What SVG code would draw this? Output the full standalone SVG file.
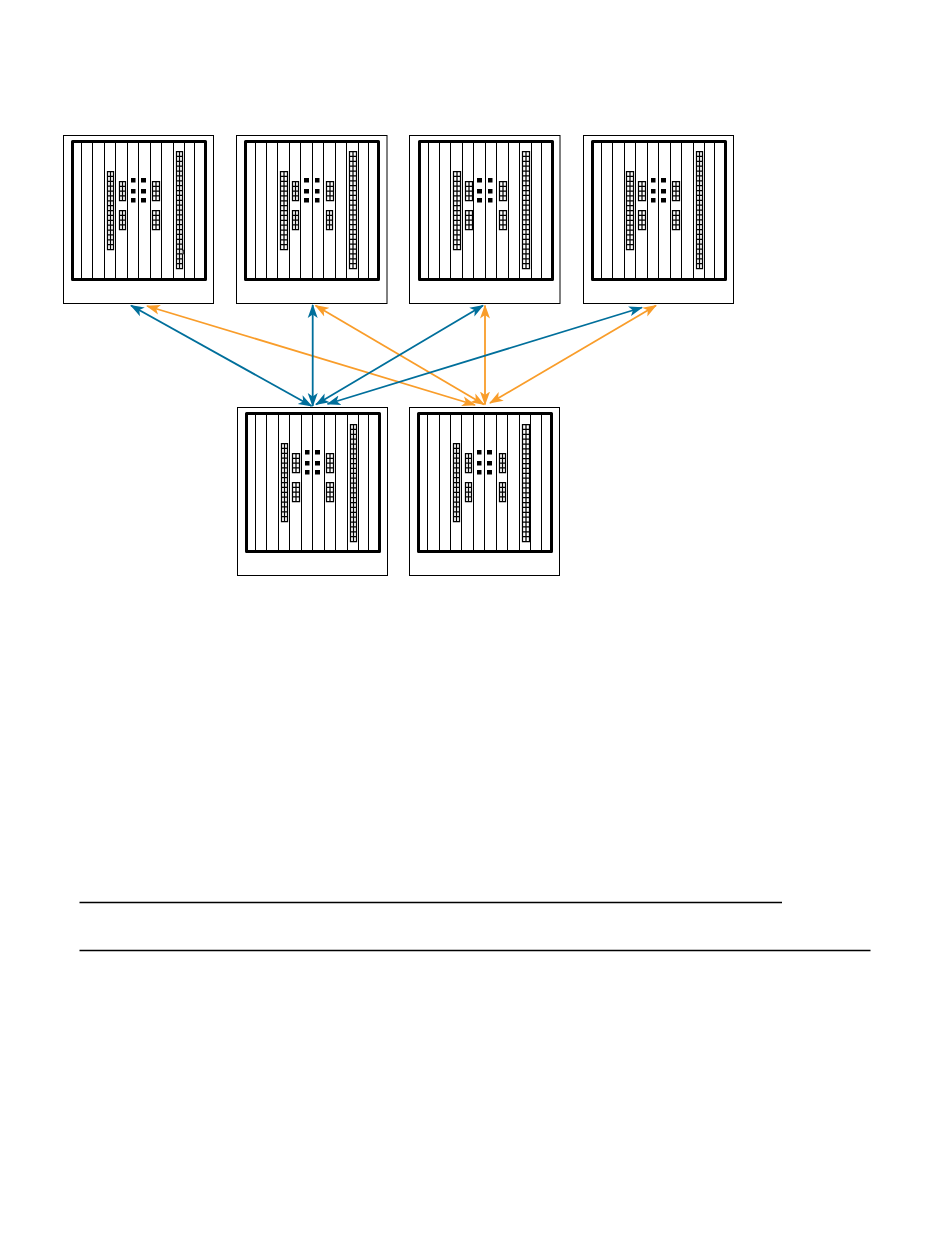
<svg xmlns="http://www.w3.org/2000/svg" width="950" height="1254" viewBox="0 0 950 1254">
<style>
.frame{fill:#fff;stroke:#000;stroke-width:1}
.inner{fill:none;stroke:#000;stroke-width:3;stroke-linejoin:round}
.slots{fill:none;stroke:#000;stroke-width:1}
.grid{fill:#fff;stroke:#000;stroke-width:1.25}
.blue{fill:none;stroke:#006f9b;stroke-width:1.8;marker-start:url(#hb);marker-end:url(#hb)}
.orange{fill:none;stroke:#f99d2a;stroke-width:1.8;marker-start:url(#ho);marker-end:url(#ho)}
.rule{stroke:#000;stroke-width:1.7}
</style>
<defs>
<marker id="hb" viewBox="0 0 14 12" refX="13" refY="6" markerWidth="14" markerHeight="12" markerUnits="userSpaceOnUse" orient="auto-start-reverse"><path d="M14 6L0 1L3.5 6L0 11Z" fill="#006f9b"/></marker>
<marker id="ho" viewBox="0 0 14 12" refX="13" refY="6" markerWidth="14" markerHeight="12" markerUnits="userSpaceOnUse" orient="auto-start-reverse"><path d="M14 6L0 1L3.5 6L0 11Z" fill="#f99d2a"/></marker>
<path id="slotsA" class="slots" d="M9.5 0v138M20.5 0v138M32.5 0v138M43.5 0v138M55.5 0v138M66.5 0v138M78.5 0v138M89.5 0v138M101.5 0v138M112.5 0v138M122.5 0v138"/>
<path id="slotsB" class="slots" d="M9.5 0v138M20.5 0v138M31.5 0v138M43.5 0v138M54.5 0v138M66.5 0v138M77.5 0v138M89.5 0v138M100.5 0v138M112.5 0v138M122.5 0v138"/>
<path id="slotsC" class="slots" d="M9.5 0v138M21.5 0v138M32.5 0v138M43.5 0v138M55.5 0v138M66.5 0v138M78.5 0v138M89.5 0v138M101.5 0v138M112.5 0v138M123.5 0v138"/>
<path id="g4w" class="grid" d="M0 0h7v19h-7zM3.5 0v19M0 4.75h7M0 9.5h7M0 14.25h7"/>
<path id="g4n" class="grid" d="M0 0h6v19h-6zM3 0v19M0 4.75h6M0 9.5h6M0 14.25h6"/>
<path id="g16w" class="grid" d="M0 0h7v78h-7zM3.5 0v78M0 4.9h7M0 9.75h7M0 14.6h7M0 19.5h7M0 24.4h7M0 29.25h7M0 34.1h7M0 39h7M0 43.9h7M0 48.75h7M0 53.6h7M0 58.5h7M0 63.4h7M0 68.25h7M0 73.1h7"/>
<path id="g16n" class="grid" d="M0 0h6v78h-6zM3 0v78M0 4.9h6M0 9.75h6M0 14.6h6M0 19.5h6M0 24.4h6M0 29.25h6M0 34.1h6M0 39h6M0 43.9h6M0 48.75h6M0 53.6h6M0 58.5h6M0 63.4h6M0 68.25h6M0 73.1h6"/>
<path id="g24w" class="grid" d="M0 0h7v117h-7zM3.5 0v117M0 4.9h7M0 9.75h7M0 14.6h7M0 19.5h7M0 24.4h7M0 29.25h7M0 34.1h7M0 39h7M0 43.9h7M0 48.75h7M0 53.6h7M0 58.5h7M0 63.4h7M0 68.25h7M0 73.1h7M0 78h7M0 82.9h7M0 87.75h7M0 92.6h7M0 97.5h7M0 102.4h7M0 107.25h7M0 112.1h7"/>
<path id="g24n" class="grid" d="M0 0h6v117h-6zM3 0v117M0 4.9h6M0 9.75h6M0 14.6h6M0 19.5h6M0 24.4h6M0 29.25h6M0 34.1h6M0 39h6M0 43.9h6M0 48.75h6M0 53.6h6M0 58.5h6M0 63.4h6M0 68.25h6M0 73.1h6M0 78h6M0 82.9h6M0 87.75h6M0 92.6h6M0 97.5h6M0 102.4h6M0 107.25h6M0 112.1h6"/>
<path id="dotsL" fill="#000" d="M0 0h4.5v4.5h-4.5zM10 0h5v4.5h-5zM0 11h4.5v4.5h-4.5zM10 11h5v4.5h-5zM0 20h4.5v4.5h-4.5zM10 20h5v4.5h-5z"/>
<path id="dotsR" fill="#000" d="M0 0h5v4.5h-5zM11 0h4.5v4.5h-4.5zM0 11h5v4.5h-5zM11 11h4.5v4.5h-4.5zM0 20h5v4.5h-5zM11 20h4.5v4.5h-4.5z"/>
</defs>
<rect width="950" height="1254" fill="#fff"/>
<g id="node-1">
<rect class="frame" x="63.5" y="135.5" width="150" height="168"/>
<rect class="inner" x="72.5" y="141.5" width="133" height="138"/>
<use href="#slotsA" x="72" y="141.5"/>
<use href="#g16n" x="107.5" y="171.5"/><use href="#g4n" x="119.5" y="181.5"/><use href="#g4n" x="119.5" y="210.5"/>
<use href="#dotsL" x="131" y="178"/>
<use href="#g4w" x="152.5" y="181.5"/><use href="#g4w" x="152.5" y="210.5"/>
<use href="#g24n" x="176.5" y="151.5"/>
<path d="M182.5 250.2h1.2v3.6h-1.2" fill="#fff" stroke="#000" stroke-width=".9"/>
</g>
<g id="node-2">
<rect class="frame" x="236.5" y="135.5" width="150.5" height="168"/>
<rect class="inner" x="245.5" y="141.5" width="133" height="138"/>
<use href="#slotsB" x="246" y="141.5"/>
<use href="#g16w" x="280.5" y="171.5"/><use href="#g4n" x="292.5" y="181.5"/><use href="#g4n" x="292.5" y="210.5"/>
<use href="#dotsR" x="304" y="178"/>
<use href="#g4w" x="326.5" y="181.5"/><use href="#g4n" x="326.5" y="210.5"/>
<use href="#g24w" x="349.5" y="151.5"/>
</g>
<g id="node-3">
<rect class="frame" x="409.5" y="135.5" width="150.5" height="168"/>
<rect class="inner" x="419.5" y="141.5" width="133" height="138"/>
<use href="#slotsB" x="419" y="141.5"/>
<use href="#g16w" x="453.5" y="171.5"/><use href="#g4w" x="465.5" y="181.5"/><use href="#g4w" x="465.5" y="210.5"/>
<use href="#dotsR" x="477" y="178"/>
<use href="#g4w" x="499.5" y="181.5"/><use href="#g4w" x="499.5" y="210.5"/>
<use href="#g24w" x="522.5" y="151.5"/>
</g>
<g id="node-4">
<rect class="frame" x="583.5" y="135.5" width="150" height="168"/>
<rect class="inner" x="592.5" y="141.5" width="133" height="138"/>
<use href="#slotsA" x="592" y="141.5"/>
<use href="#g16w" x="626.5" y="171.5"/><use href="#g4w" x="638.5" y="181.5"/><use href="#g4w" x="638.5" y="210.5"/>
<use href="#dotsL" x="651" y="178"/>
<use href="#g4w" x="672.5" y="181.5"/><use href="#g4w" x="672.5" y="210.5"/>
<use href="#g24n" x="696.5" y="151.5"/>
</g>
<g id="node-5">
<rect class="frame" x="237.5" y="407.5" width="150" height="168"/>
<rect class="inner" x="246.5" y="413.5" width="133" height="138"/>
<use href="#slotsA" x="246" y="413.5"/>
<use href="#g16n" x="281.5" y="443.5"/><use href="#g4w" x="292.5" y="453.5"/><use href="#g4w" x="292.5" y="482.5"/>
<use href="#dotsL" x="305" y="450"/>
<use href="#g4w" x="326.5" y="453.5"/><use href="#g4w" x="326.5" y="482.5"/>
<use href="#g24n" x="350.5" y="424.5"/>
</g>
<g id="node-6">
<rect class="frame" x="409.5" y="407.5" width="150" height="168"/>
<rect class="inner" x="418.5" y="413.5" width="133" height="138"/>
<use href="#slotsC" x="418" y="413.5"/>
<use href="#g16n" x="453.5" y="443.5"/><use href="#g4n" x="465.5" y="453.5"/><use href="#g4n" x="465.5" y="482.5"/>
<use href="#dotsL" x="477" y="450"/>
<use href="#g4n" x="499.5" y="453.5"/><use href="#g4n" x="499.5" y="482.5"/>
<use href="#g24w" x="522.5" y="424.5"/>
</g>
<g id="connectors">
<line class="blue" x1="131" y1="305.5" x2="311.5" y2="406"/>
<line class="orange" x1="147" y1="306" x2="475" y2="405"/>
<line class="blue" x1="312.7" y1="305" x2="312.7" y2="406"/>
<line class="orange" x1="315.5" y1="305.5" x2="484" y2="404.5"/>
<line class="blue" x1="483" y1="305.5" x2="316" y2="404.5"/>
<line class="orange" x1="485" y1="305.5" x2="485" y2="404.5"/>
<line class="blue" x1="642" y1="307.5" x2="327.5" y2="404"/>
<line class="orange" x1="656" y1="305.5" x2="490" y2="403"/>
</g>
<line class="rule" x1="79.5" y1="902.5" x2="782" y2="902.5"/>
<line class="rule" x1="79.5" y1="950.5" x2="870.5" y2="950.5"/>
</svg>
